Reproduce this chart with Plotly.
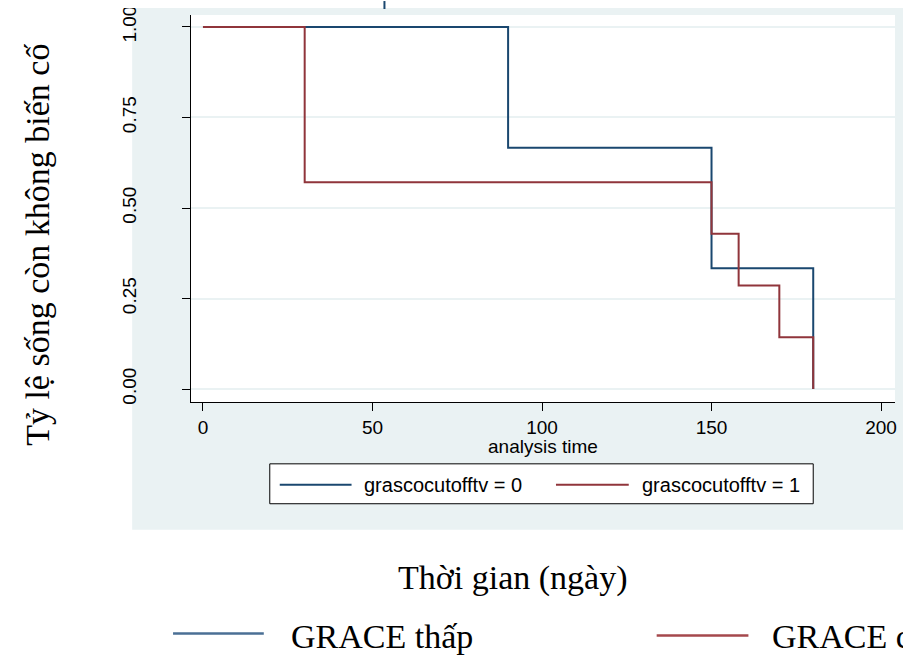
import plotly.graph_objects as go

# ---------------- data ----------------
group0_time = [0, 90, 150, 180]
group0_surv = [1.0, 0.6667, 0.3333, 0.0]
group1_time = [0, 30, 150, 158, 170, 180]
group1_surv = [1.0, 0.5714, 0.4286, 0.2857, 0.1429, 0.0]

series_names = ["grascocutofftv = 0", "grascocutofftv = 1"]
word_legend = ["GRACE thấp", "GRACE cao"]
x_ticks = [0, 50, 100, 150, 200]
y_ticks = [0.0, 0.25, 0.5, 0.75, 1.0]
y_tick_labels = ["0.00", "0.25", "0.50", "0.75", "1.00"]
x_title = "analysis time"
word_x_title = "Thời gian (ngày)"
word_y_title = "Tỷ lệ sống còn không biến cố"

# ---------------- styling ----------------
W, H = 903, 657
L, R, T, B = 191, 897, 14, 402          # plot area in pixels
BLUE = "#1a476f"
RED = "#90353b"
STATA_BG = "#eaf2f3"
SANS = "Liberation Sans, Arial, sans-serif"
SERIF = "Liberation Serif, Times New Roman, serif"


def px(xp):
    return (xp - L) / (R - L)


def py(yp):
    return (B - yp) / (B - T)


fig = go.Figure()
fig.add_trace(go.Scatter(x=group0_time, y=group0_surv, mode="lines", line_shape="hv",
                         line=dict(color=BLUE, width=2), name=series_names[0], showlegend=False))
fig.add_trace(go.Scatter(x=group1_time, y=group1_surv, mode="lines", line_shape="hv",
                         line=dict(color=RED, width=2), name=series_names[1], showlegend=False))

shapes = [
    # Stata graph region
    dict(type="rect", xref="paper", yref="paper", x0=px(132), x1=px(915), y0=py(530), y1=py(7),
         fillcolor=STATA_BG, line=dict(width=0), layer="below"),
    # plot region
    dict(type="rect", xref="paper", yref="paper", x0=px(L), x1=px(R), y0=py(B), y1=py(T),
         fillcolor="white", line=dict(width=0), layer="below"),
    # Stata legend box
    dict(type="rect", xref="paper", yref="paper", x0=px(270), x1=px(815), y0=py(504), y1=py(464),
         fillcolor="white", line=dict(color="black", width=1), layer="below"),
    dict(type="line", xref="paper", yref="paper", x0=px(280), x1=px(352), y0=py(485), y1=py(485),
         line=dict(color=BLUE, width=2)),
    dict(type="line", xref="paper", yref="paper", x0=px(557), x1=px(630), y0=py(485), y1=py(485),
         line=dict(color=RED, width=2)),
    # white strip on top
    dict(type="rect", xref="paper", yref="paper", x0=px(0), x1=px(W + 5), y0=py(7), y1=py(-5),
         fillcolor="white", line=dict(width=0), layer="above"),
    dict(type="line", xref="paper", yref="paper", x0=px(385), x1=px(385), y0=py(8), y1=py(0),
         line=dict(color=BLUE, width=2), layer="above"),
    # Word legend lines
    dict(type="line", xref="paper", yref="paper", x0=px(173), x1=px(264), y0=py(634), y1=py(634),
         line=dict(color="#4a6f95", width=2.5)),
    dict(type="line", xref="paper", yref="paper", x0=px(658), x1=px(750), y0=py(636), y1=py(636),
         line=dict(color="#a5484c", width=2.5)),
]

annotations = [
    dict(text=x_title, xref="paper", yref="paper", x=px(544), y=py(447), xanchor="center",
         yanchor="middle", showarrow=False, font=dict(family=SANS, size=19, color="black")),
    dict(text=series_names[0], xref="paper", yref="paper", x=px(362), y=py(485), xanchor="left",
         yanchor="middle", showarrow=False, font=dict(family=SANS, size=20, color="black")),
    dict(text=series_names[1], xref="paper", yref="paper", x=px(641), y=py(485), xanchor="left",
         yanchor="middle", showarrow=False, font=dict(family=SANS, size=20, color="black")),
    dict(text=word_x_title, xref="paper", yref="paper", x=px(513), y=py(578), xanchor="center",
         yanchor="middle", showarrow=False, font=dict(family=SERIF, size=34, color="black")),
    dict(text=word_legend[0], xref="paper", yref="paper", x=px(289), y=py(637), xanchor="left",
         yanchor="middle", showarrow=False, font=dict(family=SERIF, size=34, color="black")),
    dict(text=word_legend[1], xref="paper", yref="paper", x=px(772), y=py(637), xanchor="left",
         yanchor="middle", showarrow=False, font=dict(family=SERIF, size=34, color="black")),
    dict(text=word_y_title, xref="paper", yref="paper", x=px(37), y=py(244), xanchor="center",
         yanchor="middle", textangle=-90, showarrow=False,
         font=dict(family=SERIF, size=34, color="black")),
]

fig.update_layout(
    width=W, height=H,
    margin=dict(l=L, r=W - R, t=T, b=H - B, pad=0),
    paper_bgcolor="white", plot_bgcolor="white",
    shapes=shapes, annotations=annotations,
    showlegend=False,
    xaxis=dict(range=[-12 / 3.4, 200 + 14 / 3.4], tickvals=x_ticks, showgrid=False, zeroline=False,
               showline=True, linecolor="black", linewidth=1, ticks="outside", ticklen=8,
               tickcolor="black", tickfont=dict(family=SANS, size=19, color="black")),
    yaxis=dict(range=[-13 / 363, 1 + 12 / 363], tickvals=y_ticks, ticktext=y_tick_labels,
               showgrid=True, gridcolor=STATA_BG, gridwidth=1.5, zeroline=False,
               showline=True, linecolor="black", linewidth=1, ticks="outside", ticklen=8,
               tickcolor="black", tickangle=-90, ticklabelstandoff=38,
               tickfont=dict(family=SANS, size=19, color="black")),
)

fig.write_html("out.html", config={"displayModeBar": False},
               post_script="document.body.style.margin='0';document.body.style.overflow='hidden';")
